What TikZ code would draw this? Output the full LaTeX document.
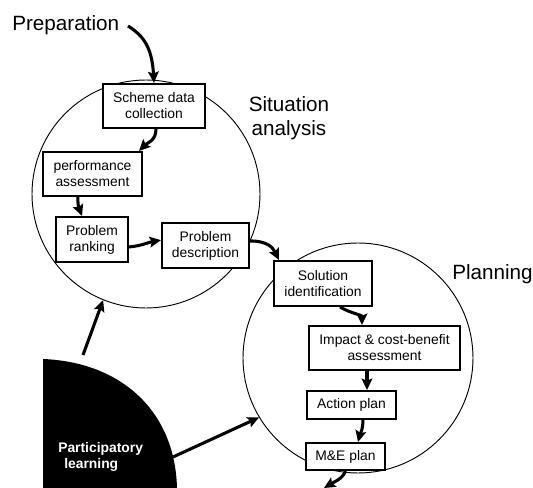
\documentclass[tikz,border=0pt]{standalone}
\usepackage{fontspec}
\setmainfont{Liberation Sans}
\usetikzlibrary{arrows.meta}
\begin{document}
\begin{tikzpicture}[x=0.75pt,y=-0.75pt,
  box/.style={draw, line width=1.5pt, fill=white, align=center, inner sep=0pt, font=\fontsize{10.4}{12}\selectfont},
  ring/.style={draw, circle, line width=0.7pt, inner sep=0pt},
  flow/.style={line width=2.3pt, -{Stealth[length=8.5pt,width=8pt,inset=1.5pt]}},
  big/.style={font=\fontsize{15.5}{18}\selectfont, inner sep=0pt}]
\useasboundingbox (0,0) rectangle (533,488);
% circles
\node[ring, minimum size=171pt] (sa) at (146,194) {};
\node[ring, minimum size=172.5pt] (pl) at (358,358) {};
% black shape
\fill (43,359) .. controls (120,362) and (175,410) .. (177,488) -- (43,488) -- cycle;
% labels
\node[big, anchor=base west] (prep) at (12,31) {Preparation};
\node[big, align=center] (satxt) at (289,118) {Situation\\analysis};
\node[big, anchor=base west] (pltxt) at (452,280) {Planning};
\node[font=\fontsize{10.4}{12}\selectfont\bfseries, text=white, align=left, anchor=north west, inner sep=0pt] (learn) at (58,442) {Participatory\\\mbox{}\kern4.5pt learning};
% boxes
\node[box, minimum width=76.5pt, minimum height=33pt] (sdc) at (154,106) {Scheme data\\collection};
\node[box, minimum width=74.25pt, minimum height=33pt] (pa) at (92.5,174) {performance\\assessment};
\node[box, minimum width=54pt, minimum height=33.75pt] (pr) at (92,239.5) {Problem\\ranking};
\node[box, minimum width=65.25pt, minimum height=33.75pt] (pd) at (205.5,245.5) {Problem\\description};
\node[box, minimum width=73.5pt, minimum height=33.75pt] (si) at (323,283.5) {Solution\\identification};
\node[box, minimum width=113.25pt, minimum height=33pt] (ic) at (384.5,348) {Impact \& cost-benefit\\assessment};
\node[box, minimum width=66.75pt, minimum height=21pt] (ap) at (351.5,405) {Action plan};
\node[box, minimum width=59.25pt, minimum height=20.25pt] (me) at (345.5,456.5) {M\&E plan};
% arrows
\coordinate (p0) at (128,26);
\draw[flow] (p0) .. controls +(16,10) and +(-2,-35) .. (sdc.north);
\draw[flow] ([xshift=1.5pt]sdc.south) .. controls +(0,12) and +(8,-8) .. ([xshift=-3pt]pa.north east);
\draw[flow] ([xshift=-11pt]pa.south) .. controls +(0,10) and +(-3,-8) .. ([xshift=-7.5pt]pr.north);
\draw[flow] ([yshift=-5.6pt]pr.east) .. controls +(12,-1) and +(-12,2) .. ([yshift=4pt]pd.west);
\draw[flow] ([yshift=3.4pt]pd.east) .. controls +(18,0) and +(-6,-12) .. ([xshift=4.5pt]si.north west);
\draw[flow] ([xshift=12.75pt]si.south) .. controls +(10,6) and +(0,-10) .. ([xshift=-16.9pt]ic.north);
\draw[flow] ([xshift=11.6pt]ap.north |- ic.south) -- ([xshift=11.6pt]ap.north);
\draw[flow] ([xshift=8.6pt]ap.south) .. controls +(0,10) and +(2,-8) .. ([xshift=9.4pt]me.north);
\coordinate (out) at (324,488);
\draw[flow] (me.south) .. controls +(-3,8) and +(10,-6) .. (out);
\coordinate (l1) at (83,355);
\draw[flow] (l1) -- (sa.248);
\coordinate (l2) at (173,457);
\draw[flow] (l2) -- (pl.211);
\end{tikzpicture}
\end{document}
